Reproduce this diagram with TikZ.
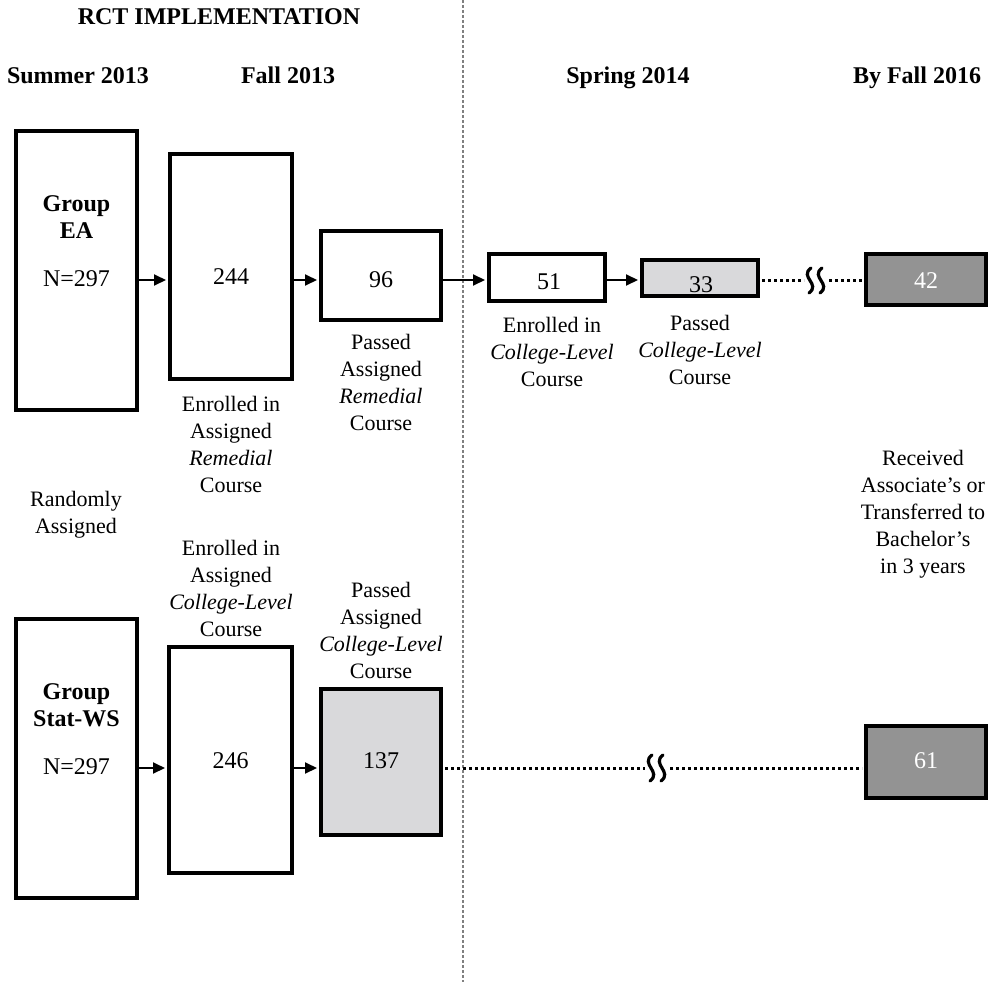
\documentclass[tikz,border=0pt]{standalone}
\usepackage{fontspec}
\setmainfont{Liberation Serif}
\usetikzlibrary{arrows.meta}
\definecolor{lightfill}{RGB}{217,217,219}
\definecolor{darkfill}{RGB}{147,147,147}
\definecolor{splitgray}{RGB}{128,128,128}
\begin{document}
\begin{tikzpicture}[x=1pt, y=-1pt,
  box/.style={draw, line width=4pt, inner sep=0pt},
  num/.style={inner sep=0pt, font=\fontsize{24}{28}\selectfont},
  lbl/.style={align=center, anchor=north, inner sep=0pt, font=\fontsize{22}{27}\selectfont},
  head/.style={anchor=base, inner sep=0pt, font=\fontsize{24}{27}\selectfont\bfseries},
  arr/.style={-{Triangle[length=12pt,width=11pt]}, line width=2pt, shorten >=2pt},
  dots/.style={line width=3pt, dash pattern=on 3pt off 3pt},
  squig/.style={line width=3.2pt, line cap=round}]
\useasboundingbox (0,0) rectangle (988,982);
% split between the RCT period and later terms
\coordinate (splittop) at (463,0);
\coordinate (splitbot) at (463,982);
\draw[splitgray, line width=1.6pt, dash pattern=on 3pt off 2pt] (splittop) -- (splitbot);
% headings
\node[head] (title) at (219,25) {RCT IMPLEMENTATION};
\node[head] (summer) at (78,84) {Summer 2013};
\node[head] (fall) at (288,84) {Fall 2013};
\node[head] (spring) at (628,84) {Spring 2014};
\node[head] (byfall) at (917,84) {By Fall 2016};
% group EA
\node[box, minimum width=121pt, minimum height=279pt] (ea) at (76.5,270.5) {};
\node[head, anchor=north, align=center] (eaname) at (76.5,195) {Group\\EA};
\node[num] (ean) at (76.5,278.5) {N=297};
\node[box, minimum width=122pt, minimum height=225pt] (b244) at (231,266.5) {};
\node[num] (t244) at (231,277) {244};
\node[box, minimum width=120pt, minimum height=89pt] (b96) at (381,275.5) {};
\node[num] (t96) at (381,280) {96};
\node[box, minimum width=116pt, minimum height=47pt] (b51) at (547,277.5) {};
\node[num] (t51) at (549,282) {51};
\node[box, fill=lightfill, minimum width=116pt, minimum height=36pt] (b33) at (700,278) {};
\node[num] (t33) at (701,285) {33};
\node[box, fill=darkfill, minimum width=120pt, minimum height=51pt] (b42) at (926,279.5) {};
\node[num, white] (t42) at (926,281) {42};
% group Stat-WS
\node[box, minimum width=121pt, minimum height=279pt] (ws) at (76.5,758.5) {};
\node[head, anchor=north, align=center] (wsname) at (76.5,683) {Group\\Stat-WS};
\node[num] (wsn) at (76.5,767) {N=297};
\node[box, minimum width=123pt, minimum height=226pt] (b246) at (230.5,760) {};
\node[num] (t246) at (230.5,761) {246};
\node[box, fill=lightfill, minimum width=120pt, minimum height=146pt] (b137) at (381,762) {};
\node[num] (t137) at (381,761) {137};
\node[box, fill=darkfill, minimum width=120pt, minimum height=72pt] (b61) at (926,762) {};
\node[num, white] (t61) at (926,761) {61};
% labels
\node[lbl] (l244) at (231,396) {Enrolled in\\Assigned\\\textit{Remedial}\\Course};
\node[lbl] (l96) at (381,334) {Passed\\Assigned\\\textit{Remedial}\\Course};
\node[lbl] (l51) at (552,317) {Enrolled in\\\textit{College-Level}\\Course};
\node[lbl] (l33) at (700,315) {Passed\\\textit{College-Level}\\Course};
\node[lbl] (lrec) at (923,450) {Received\\Associate's or\\Transferred to\\Bachelor's\\in 3 years};
\node[lbl] (lrand) at (76,491) {Randomly\\Assigned};
\node[lbl] (l246) at (231,540) {Enrolled in\\Assigned\\\textit{College-Level}\\Course};
\node[lbl] (l137) at (381,582) {Passed\\Assigned\\\textit{College-Level}\\Course};
% connectors
\coordinate (uprow) at (0,280);
\coordinate (lowrow) at (0,768);
\draw[arr] (ea.east |- uprow) -- (b244.west |- uprow);
\draw[arr] (b244.east |- uprow) -- (b96.west |- uprow);
\draw[arr] (b96.east |- uprow) -- (b51.west |- uprow);
\draw[arr] (b51.east |- uprow) -- (b33.west |- uprow);
\draw[arr] (ws.east |- lowrow) -- (b246.west |- lowrow);
\draw[arr] (b246.east |- lowrow) -- (b137.west |- lowrow);
\coordinate (brka1) at (804,280);
\coordinate (brka2) at (829,280);
\coordinate (brkb1) at (645,768);
\coordinate (brkb2) at (670,768);
\draw[dots, shorten <=2pt] (b33.east |- uprow) -- (brka1);
\draw[dots, shorten >=2pt] (brka2) -- (b42.west |- uprow);
\draw[dots, shorten <=2pt] (b137.east |- lowrow) -- (brkb1);
\draw[dots, shorten >=2pt] (brkb2) -- (b61.west |- lowrow);
\foreach \sx in {810,821}
  \draw[squig] (\sx+1,268) .. controls (\sx-11,277) and (\sx+11,284) .. (\sx-1,293);
\foreach \sx in {651,662}
  \draw[squig] (\sx+1,755) .. controls (\sx-11,764) and (\sx+11,772) .. (\sx-1,781);
\end{tikzpicture}
\end{document}
